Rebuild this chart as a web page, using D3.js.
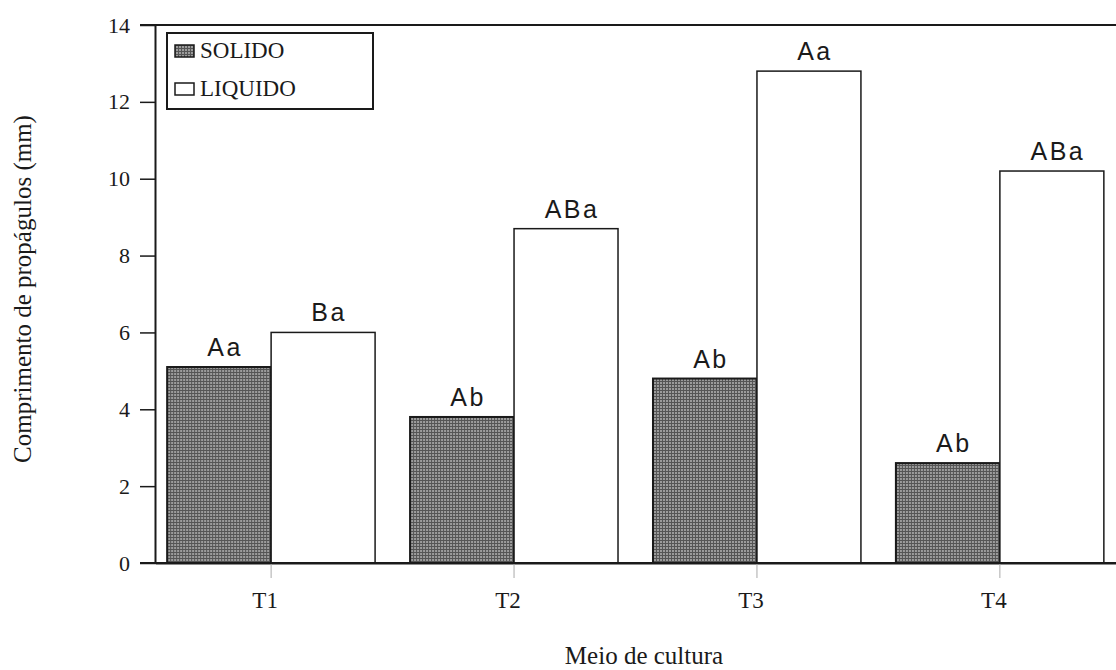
<!DOCTYPE html>
<html>
<head>
<meta charset="utf-8">
<script src="https://cdn.jsdelivr.net/npm/d3@7"></script>
<style>
  html, body { margin: 0; padding: 0; background: #fff; }
  svg { display: block; }
</style>
</head>
<body>
<div id="chart"></div>
<script>
const categories = ['T1', 'T2', 'T3', 'T4'];
const seriesNames = ['SOLIDO', 'LIQUIDO'];
const solido  = [5.1, 3.8, 4.8, 2.6];
const liquido = [6.0, 8.7, 12.8, 10.2];
const solidoLetters  = ['Aa', 'Ab', 'Ab', 'Ab'];
const liquidoLetters = ['Ba', 'ABa', 'Aa', 'ABa'];
const yTicks = [0, 2, 4, 6, 8, 10, 12, 14];

const W = 1116, H = 670;
const X0 = 155, X1 = 1116, Y0 = 563, Y1 = 25;
const INK = '#1a1a1a';
const SERIF = '"Liberation Serif", "Times New Roman", serif';
const SANS  = '"Liberation Sans", Arial, sans-serif';

const svg = d3.select('#chart').append('svg').attr('width', W).attr('height', H);

// grey cross-hatch used for the SOLIDO bars
const pat = svg.append('defs').append('pattern')
  .attr('id', 'hatch').attr('patternUnits', 'userSpaceOnUse')
  .attr('width', 3).attr('height', 3);
pat.append('rect').attr('width', 3).attr('height', 3).attr('fill', '#9c9c9c');
pat.append('path').attr('d', 'M0,0.5H3M0.5,0V3')
  .attr('stroke', '#555').attr('stroke-width', 1);

const x = d3.scaleBand().domain(categories).range([X0, X1])
  .paddingInner(0.144).paddingOuter(0.05);
const xs = d3.scaleBand().domain(seriesNames).range([0, x.bandwidth()]);
const y = d3.scaleLinear().domain([0, 14]).range([Y0, Y1]);

const rows = categories.map((c, i) => ({
  cat: c,
  bars: [
    { key: 'SOLIDO',  value: solido[i],  label: solidoLetters[i] },
    { key: 'LIQUIDO', value: liquido[i], label: liquidoLetters[i] },
  ],
}));

// bars
const groups = svg.selectAll('.grp').data(rows).join('g')
  .attr('class', 'grp')
  .attr('transform', d => `translate(${x(d.cat)},0)`);

groups.selectAll('rect').data(d => d.bars).join('rect')
  .attr('x', d => xs(d.key))
  .attr('y', d => y(d.value))
  .attr('width', xs.bandwidth())
  .attr('height', d => y(0) - y(d.value))
  .attr('fill', d => d.key === 'SOLIDO' ? 'url(#hatch)' : '#fff')
  .attr('stroke', INK)
  .attr('stroke-width', d => d.key === 'SOLIDO' ? 2 : 1.5);

groups.selectAll('text.lbl').data(d => d.bars).join('text')
  .attr('class', 'lbl')
  .attr('x', d => xs(d.key) + xs.bandwidth() / 2 + 6)
  .attr('y', d => y(d.value) - 11)
  .attr('text-anchor', 'middle')
  .attr('font-family', SANS).attr('font-size', 25)
  .attr('letter-spacing', 2.5)
  .attr('fill', INK)
  .text(d => d.label);

// y axis
const yAxis = svg.append('g').attr('transform', `translate(${X0},0)`)
  .call(d3.axisLeft(y).tickValues(yTicks).tickSize(15).tickSizeOuter(0).tickPadding(10));
yAxis.select('.domain').attr('stroke', INK).attr('stroke-width', 2);
yAxis.selectAll('.tick line').attr('stroke', INK).attr('stroke-width', 1.5);
yAxis.selectAll('.tick text').attr('font-family', SERIF).attr('font-size', 22).attr('fill', INK);

// x axis
const xAxis = svg.append('g').attr('transform', `translate(0,${Y0})`)
  .call(d3.axisBottom(x).tickSize(15).tickSizeOuter(0).tickPadding(14));
xAxis.select('.domain').attr('stroke', INK).attr('stroke-width', 2);
xAxis.selectAll('.tick line').attr('stroke', '#aaa').attr('stroke-width', 1);
xAxis.selectAll('.tick text').attr('font-family', SERIF).attr('font-size', 23).attr('fill', INK)
  .attr('dx', -6);

// baseline and top frame extend left to the tick marks
svg.append('line').attr('x1', X0 - 15).attr('x2', X1).attr('y1', Y0).attr('y2', Y0)
  .attr('stroke', INK).attr('stroke-width', 2);
svg.append('line').attr('x1', X0 - 15).attr('x2', X1).attr('y1', Y1).attr('y2', Y1)
  .attr('stroke', INK).attr('stroke-width', 2);

// axis titles
svg.append('text')
  .attr('transform', `translate(31,${(Y0 + Y1) / 2 - 5}) rotate(-90)`)
  .attr('text-anchor', 'middle')
  .attr('font-family', SERIF).attr('font-size', 25).attr('fill', INK)
  .text('Comprimento de propágulos (mm)');
svg.append('text')
  .attr('x', 644).attr('y', 664)
  .attr('text-anchor', 'middle')
  .attr('font-family', SERIF).attr('font-size', 25).attr('fill', INK)
  .text('Meio de cultura');

// legend
const leg = svg.append('g').attr('transform', 'translate(167,33)');
leg.append('rect').attr('width', 206).attr('height', 76)
  .attr('fill', '#fff').attr('stroke', INK).attr('stroke-width', 2);
seriesNames.forEach((name, i) => {
  const row = leg.append('g').attr('transform', `translate(8,${12 + i * 38})`);
  row.append('rect').attr('width', 19).attr('height', 12)
    .attr('fill', name === 'SOLIDO' ? 'url(#hatch)' : '#fff')
    .attr('stroke', INK).attr('stroke-width', 1.5);
  row.append('text').attr('x', 25).attr('y', 13)
    .attr('font-family', SERIF).attr('font-size', 23).attr('fill', INK)
    .text(name);
});
</script>
</body>
</html>
